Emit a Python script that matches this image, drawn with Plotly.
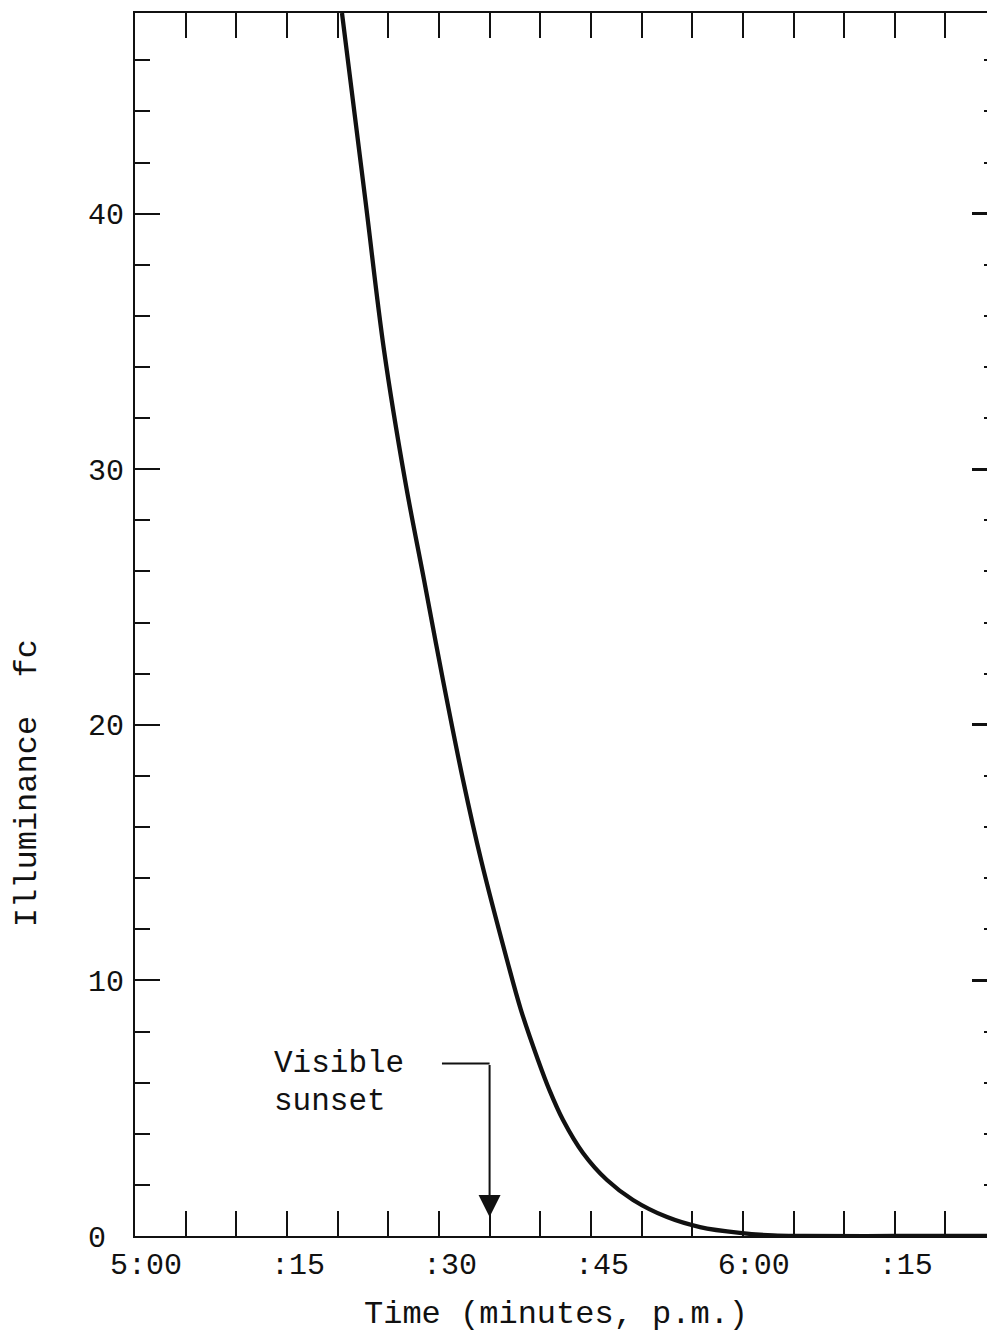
import plotly.graph_objects as go

# Data (minutes after 5:00 p.m., illuminance in fc)
time_min = [20.43, 22.74, 24.58, 26.65, 28.53, 30.40, 32.38, 34.16, 36.72, 38.10,
            39.78, 40.91, 42.25, 44.22, 46.59, 49.16, 52.52, 55.77, 59.72, 63.0,
            66.0, 75.0, 85.0]
illum_fc = [47.85, 40.53, 34.66, 29.58, 25.67, 21.75, 17.84, 14.71, 10.80, 8.84,
            6.89, 5.71, 4.54, 3.25, 2.19, 1.41, 0.74, 0.35, 0.12, 0.02,
            0.0, 0.0, 0.0]

x_tickvals = [0, 15, 30, 45, 60, 75]
x_ticktext = ["5:00", ":15", ":30", ":45", "6:00", ":15"]
y_tickvals = [0, 10, 20, 30, 40]
y_ticktext = ["0\u00a0", "10", "20", "30", "40"]

sunset_min = 35.0
sunset_label_y = 6.75

FONT = "Liberation Mono"
INK = "#111111"

fig = go.Figure()
fig.add_trace(go.Scatter(x=time_min, y=illum_fc, mode="lines",
                         line=dict(color=INK, width=4.3, shape="spline", smoothing=1.0),
                         showlegend=False, hoverinfo="skip"))
# same curve referenced on the right-hand axis so that its ticks are drawn
fig.add_trace(go.Scatter(x=time_min, y=illum_fc, mode="lines", yaxis="y2",
                         line=dict(color="rgba(0,0,0,0)", width=0),
                         showlegend=False, hoverinfo="skip"))

fig.update_layout(
    width=987, height=1336,
    margin=dict(l=135, r=0, t=13, b=100),
    paper_bgcolor="white", plot_bgcolor="white",
    font=dict(family=FONT, color=INK),
    xaxis=dict(range=[0, 84.1], tickmode="array", tickvals=x_tickvals, ticktext=x_ticktext,
               ticks="inside", ticklen=25, tickwidth=2, tickcolor=INK,
               showline=True, linewidth=2, linecolor=INK, mirror="allticks",
               showgrid=False, zeroline=False,
               tickfont=dict(family=FONT, size=30, color=INK), ticklabelshift=11,
               minor=dict(dtick=5, tick0=0, ticks="inside", ticklen=14, tickwidth=2,
                          tickcolor=INK, showgrid=False)),
    yaxis=dict(range=[0, 47.85], tickmode="array", tickvals=y_tickvals, ticktext=y_ticktext,
               ticks="inside", ticklen=25, tickwidth=2, tickcolor=INK,
               showline=True, linewidth=2, linecolor=INK, mirror=False,
               showgrid=False, zeroline=False, ticklabelstandoff=3,
               tickfont=dict(family=FONT, size=30, color=INK),
               minor=dict(dtick=2, tick0=0, ticks="inside", ticklen=15, tickwidth=2,
                          tickcolor=INK, showgrid=False)),
    yaxis2=dict(range=[0, 47.85], overlaying="y", side="right", anchor="x",
                tickmode="array", tickvals=y_tickvals, showticklabels=False,
                ticks="inside", ticklen=15, tickwidth=2.5, tickcolor=INK,
                showline=False, showgrid=False, zeroline=False,
                minor=dict(dtick=2, tick0=0, ticks="inside", ticklen=3, tickwidth=2,
                           tickcolor=INK, showgrid=False)),
)

# Axis titles
fig.add_annotation(text="Time (minutes, p.m.)", xref="paper", yref="paper",
                   x=0.494, y=-0.064, xanchor="center", yanchor="middle", showarrow=False,
                   font=dict(family=FONT, size=32, color=INK))
fig.add_annotation(text="Illuminance\u00a0\u00a0fc", xref="paper", yref="paper",
                   x=-0.126, y=0.370, xanchor="center", yanchor="middle",
                   textangle=-90, showarrow=False,
                   font=dict(family=FONT, size=32, color=INK))

# Visible sunset callout
fig.add_annotation(text="Visible", x=13.5, y=6.73, xref="x", yref="y",
                   xanchor="left", yanchor="middle", showarrow=False,
                   font=dict(family=FONT, size=31, color=INK))
fig.add_annotation(text="sunset", x=13.5, y=5.28, xref="x", yref="y",
                   xanchor="left", yanchor="middle", showarrow=False,
                   font=dict(family=FONT, size=31, color=INK))
fig.add_shape(type="line", x0=30.3, x1=sunset_min, y0=sunset_label_y, y1=sunset_label_y,
              xref="x", yref="y", line=dict(color=INK, width=2))
fig.add_annotation(x=sunset_min, y=0.74, ax=sunset_min, ay=sunset_label_y,
                   xref="x", yref="y", axref="x", ayref="y", text="",
                   showarrow=True, arrowhead=2, arrowsize=2.2, arrowwidth=2,
                   arrowcolor=INK)

fig.write_html("out.html")
